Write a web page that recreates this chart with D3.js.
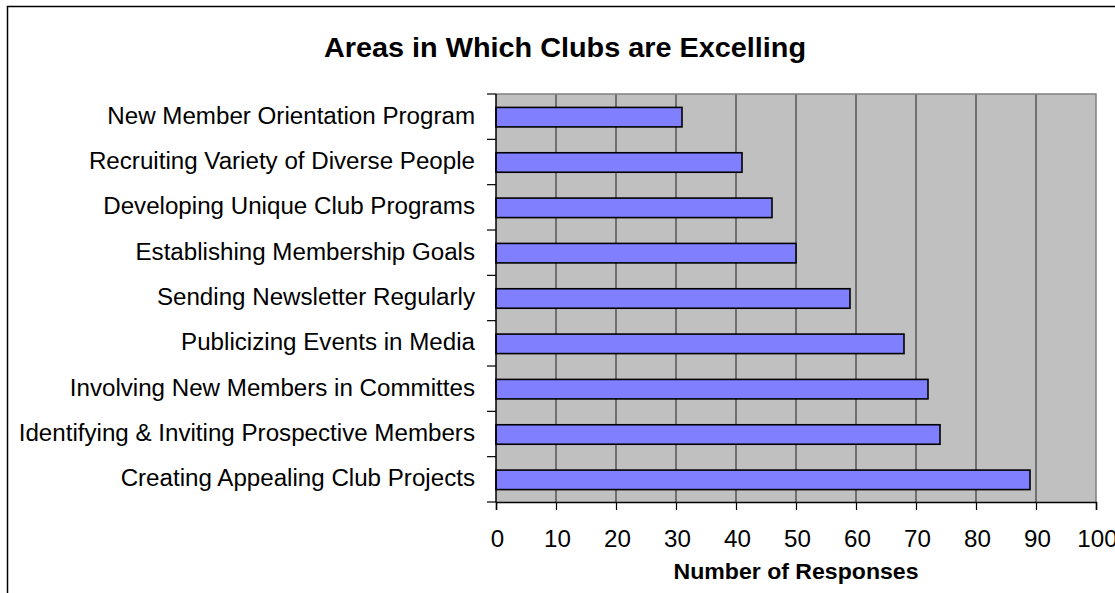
<!DOCTYPE html>
<html>
<head>
<meta charset="utf-8">
<script src="https://cdn.jsdelivr.net/npm/d3@7"></script>
<style>
  html, body { margin: 0; padding: 0; background: #fff; }
  svg { display: block; }
  text { font-family: "Liberation Sans", Arial, sans-serif; fill: #000; }
</style>
</head>
<body>
<svg id="chart" width="1115" height="593"></svg>
<script>
// Survey categories, listed top to bottom
const categories = [
  "New Member Orientation Program",
  "Recruiting Variety of Diverse People",
  "Developing Unique Club Programs",
  "Establishing Membership Goals",
  "Sending Newsletter Regularly",
  "Publicizing Events in Media",
  "Involving New Members in Committes",
  "Identifying & Inviting Prospective Members",
  "Creating Appealing Club Projects"
];
// Number of responses per category
const responses = [31, 41, 46, 50, 59, 68, 72, 74, 89];
// Value axis ticks
const xTicks = [0, 10, 20, 30, 40, 50, 60, 70, 80, 90, 100];

const titleText = "Areas in Which Clubs are Excelling";
const xTitleText = "Number of Responses";

const svg = d3.select("#chart");
const W = 1115, H = 593;
const plot = { left: 496, top: 94, right: 1096, bottom: 502 };
const stretch = 1.05; // slight horizontal text widening

const x = d3.scaleLinear().domain([0, 100]).range([plot.left, plot.right]);
const y = d3.scaleBand().domain(categories).range([plot.top, plot.bottom]).padding(0);
const barFrac = 0.43;

// Outer chart frame (continues past the right and bottom edges)
svg.append("path")
  .attr("d", `M7.5,${H + 5} L7.5,6.5 L${W + 5},6.5`)
  .attr("fill", "none")
  .attr("stroke", "#000")
  .attr("stroke-width", 1.5);

// Plot background
svg.append("rect")
  .attr("x", plot.left).attr("y", plot.top)
  .attr("width", plot.right - plot.left).attr("height", plot.bottom - plot.top)
  .attr("fill", "#c0c0c0");

// Vertical gridlines
svg.append("g").selectAll("line")
  .data(xTicks.filter(d => d > 0 && d < 100))
  .join("line")
  .attr("x1", d => x(d)).attr("x2", d => x(d))
  .attr("y1", plot.top).attr("y2", plot.bottom)
  .attr("stroke", "#3a3a3a").attr("stroke-width", 1.2);

// Plot border (top and right)
svg.append("path")
  .attr("d", `M${plot.left},${plot.top} L${plot.right},${plot.top} L${plot.right},${plot.bottom}`)
  .attr("fill", "none").attr("stroke", "#808080").attr("stroke-width", 1.5);

// Bars
svg.append("g").selectAll("rect")
  .data(categories)
  .join("rect")
  .attr("x", x(0))
  .attr("y", (d) => y(d) + (y.bandwidth() * (1 - barFrac)) / 2 + 0.5)
  .attr("width", (d, i) => x(responses[i]) - x(0))
  .attr("height", y.bandwidth() * barFrac)
  .attr("fill", "#8080ff")
  .attr("stroke", "#000")
  .attr("stroke-width", 1.6);

// Value axis
const xAxis = svg.append("g")
  .attr("transform", `translate(0,${plot.bottom})`)
  .call(d3.axisBottom(x).tickValues(xTicks).tickSize(8).tickPadding(6).tickFormat(d3.format("d")));
xAxis.select(".domain").attr("stroke", "#000").attr("stroke-width", 1.5);
xAxis.selectAll(".tick line").attr("stroke", "#000").attr("stroke-width", 1.2);
xAxis.selectAll(".tick text")
  .attr("y", 0).attr("dy", 0)
  .attr("transform", `translate(1,45) scale(${stretch},1)`)
  .style("font-size", "23px");

// Category axis: line with ticks between categories
const boundaries = categories.map(c => y(c)).concat([plot.bottom]);
svg.append("line")
  .attr("x1", plot.left).attr("x2", plot.left)
  .attr("y1", plot.top).attr("y2", plot.bottom)
  .attr("stroke", "#000").attr("stroke-width", 1.5);
svg.append("g").selectAll("line")
  .data(boundaries)
  .join("line")
  .attr("x1", plot.left - 9).attr("x2", plot.left)
  .attr("y1", d => d).attr("y2", d => d)
  .attr("stroke", "#000").attr("stroke-width", 1.2);

// Category labels
svg.append("g").selectAll("text")
  .data(categories)
  .join("text")
  .attr("text-anchor", "end")
  .attr("transform", d => `translate(${plot.left - 21},${y(d) + y.bandwidth() / 2 + 7}) scale(${stretch},1)`)
  .style("font-size", "23px")
  .text(d => d);

// Chart title
svg.append("text")
  .attr("text-anchor", "middle")
  .attr("transform", `translate(565,57) scale(1.03,1)`)
  .style("font-size", "28px").style("font-weight", "bold")
  .text(titleText);

// Value axis title
svg.append("text")
  .attr("text-anchor", "middle")
  .attr("transform", `translate(796,579) scale(${stretch},1)`)
  .style("font-size", "22px").style("font-weight", "bold")
  .text(xTitleText);
</script>
</body>
</html>
